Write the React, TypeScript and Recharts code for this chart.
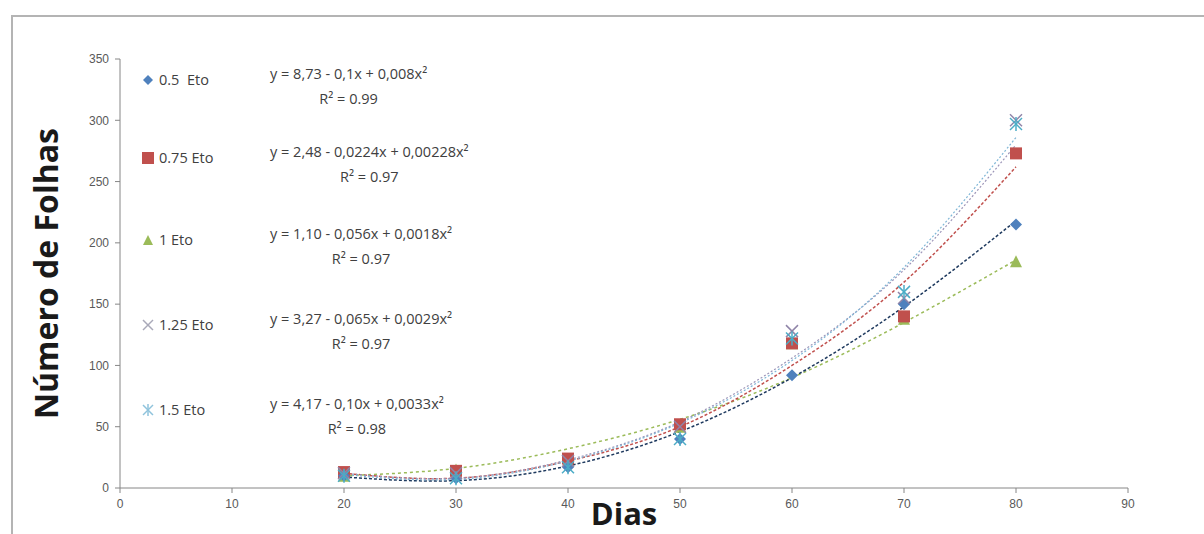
import { ComposedChart, Line, Scatter, XAxis, YAxis, Label } from "recharts"

const X_TICKS = [0, 10, 20, 30, 40, 50, 60, 70, 80, 90]
const Y_TICKS = [0, 50, 100, 150, 200, 250, 300, 350]

// dias de avaliação
const DAYS = [20, 30, 40, 50, 60, 70, 80]

// número de folhas observado, por lâmina de irrigação
const ETO_05 = [10, 8, 17, 40, 92, 150, 215]
const ETO_075 = [13, 14, 24, 52, 118, 140, 273]
const ETO_1 = [10, 15, 22, 50, 118, 138, 185]
const ETO_125 = [12, 12, 22, 50, 128, 155, 300]
const ETO_15 = [10, 8, 17, 40, 122, 160, 297]

// linhas de tendência (polinomial)
const TREND_05 = [9, 6, 18, 46, 90, 148, 218]
const TREND_075 = [12, 8, 22, 50, 100, 168, 262]
const TREND_1 = [10, 16, 32, 56, 90, 135, 186]
const TREND_125 = [12, 8, 23, 54, 106, 178, 280]
const TREND_15 = [11, 7, 22, 53, 104, 180, 286]

const SERIES_NAMES = ["0.5  Eto", "0.75 Eto", "1 Eto", "1.25 Eto", "1.5 Eto"]
const EQUATIONS = [
  "y = 8,73 - 0,1x + 0,008x²",
  "y = 2,48 - 0,0224x + 0,00228x²",
  "y = 1,10 - 0,056x + 0,0018x²",
  "y = 3,27 - 0,065x + 0,0029x²",
  "y = 4,17 - 0,10x + 0,0033x²",
]
const R_SQUARED = ["R² = 0.99", "R² = 0.97", "R² = 0.97", "R² = 0.97", "R² = 0.98"]

const COLORS = {
  eto05: "#4f81bd",
  eto075: "#c0504d",
  eto1: "#9bbb59",
  eto125: "#8f84a8",
  eto15: "#4bacc6",
}

const toPoints = (values: number[]) => DAYS.map((x, i) => ({ x, y: values[i] }))

const Diamond = ({ cx, cy, fill, s = 6 }: any) => (
  <polygon points={`${cx},${cy - s} ${cx + s},${cy} ${cx},${cy + s} ${cx - s},${cy}`} fill={fill} />
)
const Square = ({ cx, cy, fill, s = 6 }: any) => (
  <rect x={cx - s} y={cy - s} width={s * 2} height={s * 2} fill={fill} />
)
const Triangle = ({ cx, cy, fill, s = 6 }: any) => (
  <polygon points={`${cx},${cy - s} ${cx + s},${cy + s} ${cx - s},${cy + s}`} fill={fill} />
)
const XMark = ({ cx, cy, fill, s = 6 }: any) => (
  <g stroke={fill} strokeWidth={1.5}>
    <line x1={cx - s} y1={cy - s} x2={cx + s} y2={cy + s} />
    <line x1={cx - s} y1={cy + s} x2={cx + s} y2={cy - s} />
  </g>
)
const Star = ({ cx, cy, fill, s = 6 }: any) => (
  <g stroke={fill} strokeWidth={1.5}>
    <line x1={cx - s} y1={cy - s} x2={cx + s} y2={cy + s} />
    <line x1={cx - s} y1={cy + s} x2={cx + s} y2={cy - s} />
    <line x1={cx} y1={cy - s - 1} x2={cx} y2={cy + s + 1} />
  </g>
)

const MARKERS = [
  { Shape: Diamond, color: COLORS.eto05 },
  { Shape: Square, color: COLORS.eto075 },
  { Shape: Triangle, color: COLORS.eto1 },
  { Shape: XMark, color: "#a9a9b9" },
  { Shape: Star, color: "#8fc3dc" },
]

const LEGEND_ROWS_Y = [80, 158, 240, 325, 410]

const textFont = "'Liberation Sans', Arial, sans-serif"
const legendFont = "'Open Sans', sans-serif"
const titleFont = "'Open Sans', sans-serif"

function LegendBox() {
  return (
    <>
      {SERIES_NAMES.map((name, i) => {
        const { Shape, color } = MARKERS[i]
        const y = LEGEND_ROWS_Y[i]
        return (
          <div key={name} style={{ fontFamily: legendFont }}>
            <svg
              width={16}
              height={16}
              style={{ position: "absolute", left: 140, top: y - 8 }}
            >
              <Shape cx={8} cy={8} fill={color} s={i === 1 ? 6 : 5} />
            </svg>
            <div
              style={{
                position: "absolute",
                left: 159,
                top: y - 10,
                fontSize: 14.5,
                lineHeight: "20px",
                color: "#404040",
                whiteSpace: "pre",
              }}
            >
              {name}
            </div>
            <div
              style={{
                position: "absolute",
                left: 270,
                top: y - 19,
                fontSize: 14.5,
                lineHeight: "25px",
                color: "#404040",
                textAlign: "center",
                display: "inline-block",
                whiteSpace: "nowrap",
              }}
            >
              <div>{EQUATIONS[i]}</div>
              <div>{R_SQUARED[i]}</div>
            </div>
          </div>
        )
      })}
    </>
  )
}

export default function App() {
  return (
    <div
      style={{
        position: "absolute",
        left: 0,
        top: 0,
        width: 1204,
        height: 534,
        background: "#fff",
        overflow: "hidden",
        fontFamily: textFont,
      }}
    >
      <div
        style={{
          position: "absolute",
          left: 11,
          top: 15,
          width: 1220,
          height: 560,
          border: "2px solid #b4b4b4",
        }}
      />
      <ComposedChart
        width={1204}
        height={534}
        margin={{ top: 59, right: 76, left: 20, bottom: 6 }}
        style={{ position: "absolute", left: 0, top: 0 }}
      >
        <XAxis
          type="number"
          dataKey="x"
          domain={[0, 90]}
          ticks={X_TICKS}
          height={40}
          tickSize={5}
          tickMargin={6}
          stroke="#868686"
          tick={{ fontSize: 12, fill: "#595959", fontFamily: textFont }}
          allowDuplicatedCategory={false}
        >
          <Label
            value="Dias"
            position="insideBottom"
            offset={3}
            style={{ fontSize: 31, fontWeight: 700, fill: "#1a1a1a", fontFamily: titleFont }}
          />
        </XAxis>
        <YAxis
          type="number"
          dataKey="y"
          domain={[0, 350]}
          ticks={Y_TICKS}
          width={100}
          tickSize={5}
          tickMargin={6}
          stroke="#868686"
          tick={{ fontSize: 12, fill: "#595959", fontFamily: textFont }}
        >
          <Label
            content={({ viewBox }: any) => {
              const x = viewBox.x + 25
              const y = viewBox.y + viewBox.height / 2
              return (
                <text
                  x={x}
                  y={y}
                  transform={`rotate(-90 ${x} ${y})`}
                  textAnchor="middle"
                  dominantBaseline="central"
                  style={{ fontSize: 32, fontWeight: 700, fill: "#1a1a1a", fontFamily: titleFont }}
                >
                  Número de Folhas
                </text>
              )
            }}
          />
        </YAxis>

        <Line data={toPoints(TREND_1)} dataKey="y" type="natural" stroke={COLORS.eto1} strokeWidth={1.5} strokeDasharray="3 3" dot={false} legendType="none" isAnimationActive={false} />
        <Line data={toPoints(TREND_05)} dataKey="y" type="natural" stroke="#1f3a5f" strokeWidth={1.5} strokeDasharray="3 2" dot={false} legendType="none" isAnimationActive={false} />
        <Line data={toPoints(TREND_075)} dataKey="y" type="natural" stroke={COLORS.eto075} strokeWidth={1.5} strokeDasharray="3 2" dot={false} legendType="none" isAnimationActive={false} />
        <Line data={toPoints(TREND_125)} dataKey="y" type="natural" stroke="#9c95b8" strokeWidth={1.2} strokeDasharray="2 2" dot={false} legendType="none" isAnimationActive={false} />
        <Line data={toPoints(TREND_15)} dataKey="y" type="natural" stroke="#7fb6d6" strokeWidth={1.2} strokeDasharray="2 2" dot={false} legendType="none" isAnimationActive={false} />

        <Scatter name={SERIES_NAMES[2]} data={toPoints(ETO_1)} fill={COLORS.eto1} shape={(p: any) => <Triangle cx={p.cx} cy={p.cy} fill={COLORS.eto1} />} isAnimationActive={false} />
        <Scatter name={SERIES_NAMES[1]} data={toPoints(ETO_075)} fill={COLORS.eto075} shape={(p: any) => <Square cx={p.cx} cy={p.cy} fill={COLORS.eto075} />} isAnimationActive={false} />
        <Scatter name={SERIES_NAMES[0]} data={toPoints(ETO_05)} fill={COLORS.eto05} shape={(p: any) => <Diamond cx={p.cx} cy={p.cy} fill={COLORS.eto05} />} isAnimationActive={false} />
        <Scatter name={SERIES_NAMES[3]} data={toPoints(ETO_125)} fill={COLORS.eto125} shape={(p: any) => <XMark cx={p.cx} cy={p.cy} fill={COLORS.eto125} />} isAnimationActive={false} />
        <Scatter name={SERIES_NAMES[4]} data={toPoints(ETO_15)} fill={COLORS.eto15} shape={(p: any) => <Star cx={p.cx} cy={p.cy} fill={COLORS.eto15} />} isAnimationActive={false} />
      </ComposedChart>
      <LegendBox />
    </div>
  )
}
